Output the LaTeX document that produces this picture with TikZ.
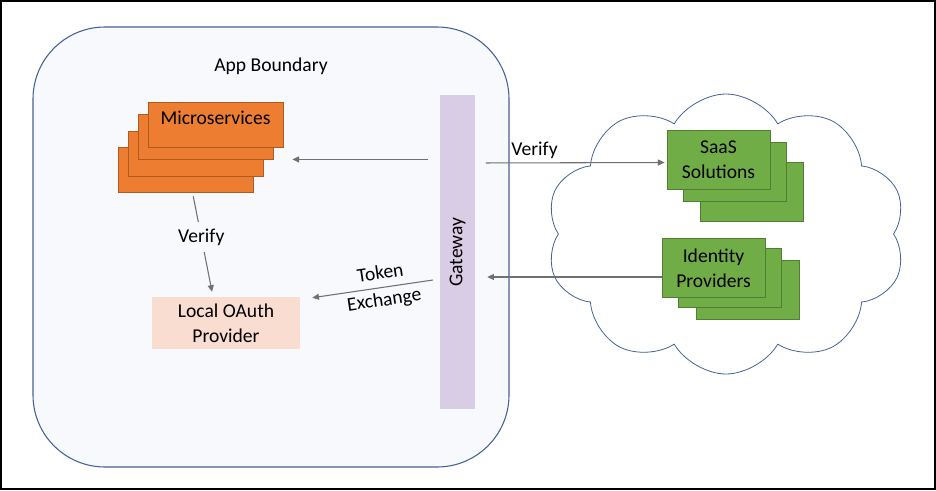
\documentclass[tikz,border=0pt]{standalone}
\usepackage{fontspec}
\setmainfont{Carlito}
\usetikzlibrary{arrows.meta,calc,positioning,shapes.symbols}

\newlength{\pxl}
\setlength{\pxl}{0.75pt}

\definecolor{frameblue}{RGB}{68,97,152}
\definecolor{appfill}{RGB}{247,249,253}
\definecolor{msfill}{RGB}{237,125,49}
\definecolor{msline}{RGB}{174,90,33}
\definecolor{extfill}{RGB}{112,173,71}
\definecolor{extline}{RGB}{80,126,50}
\definecolor{gwfill}{RGB}{217,204,229}
\definecolor{oafill}{RGB}{248,221,208}
\definecolor{linkgray}{RGB}{112,112,112}

\tikzset{
	every node/.style = {font=\fontsize{14.7}{18.8}\selectfont, inner sep=0pt},
	boundary/.style = {draw=frameblue, fill=appfill, line width=0.8pt, rounded corners=54pt, minimum width=476\pxl, minimum height=440\pxl},
	msbox/.style = {draw=msline, fill=msfill, line width=0.6pt, minimum width=135\pxl, minimum height=45\pxl},
	extbox/.style = {draw=extline, fill=extfill, line width=0.6pt, minimum width=103\pxl, minimum height=59\pxl, align=center},
	gateway/.style = {fill=gwfill, minimum width=35\pxl, minimum height=314\pxl},
	oauth/.style = {fill=oafill, minimum width=148\pxl, minimum height=52\pxl, align=center},
	cloudy/.style = {cloud, cloud puffs=10, cloud puff arc=120, aspect=1.28, draw=frameblue, line width=0.6pt, minimum width=360\pxl, minimum height=280\pxl},
	link/.style = {draw=linkgray, line width=0.8pt, -{Triangle[length=5pt,width=4.5pt]}}
}

\begin{document}
\begin{tikzpicture}[x=0.75pt, y=-0.75pt]
	\useasboundingbox (0,0) rectangle (936,490);
	\draw[line width=1.5pt] (1,1) rectangle (935,489);

	% app side
	\node[boundary] (app) at (271,247) {};
	\node (title) at (271,66) {App Boundary};
	\foreach \i/\dx/\dy in {4/-30/45, 3/-20/29, 2/-10/12}
		\node[msbox] (ms\i) at ($(215.5,124.5)+(\dx,\dy)$) {};
	\node[msbox, text depth=10pt] (ms1) at (215.5,124.5) {Microservices};
	\node[oauth] (oa) at (226,323) {Local OAuth\\Provider};
	\node[gateway] (gw) at (457.5,252) {\rotatebox{90}{Gateway}};

	% outside
	\node[cloudy] (net) at (726,234) {};
	\foreach \i/\dx/\dy in {3/33/32, 2/16/12}
		\node[extbox] (sa\i) at ($(718.5,159.5)+(\dx,\dy)$) {};
	\node[extbox] (sa1) at (718.5,159.5) {SaaS\\Solutions};
	\foreach \i/\dx/\dy in {3/34/22, 2/16/10}
		\node[extbox] (id\i) at ($(713.5,268)+(\dx,\dy)$) {};
	\node[extbox] (id1) at (713.5,268) {Identity\\Providers};

	% links
	\draw[link, shorten <=9pt, shorten >=6.75pt] (gw.west |- ms2.south) -- (ms1.east |- ms2.south);
	\draw[link, shorten <=3pt, shorten >=3.75pt] ($(ms4.south)+(7,0)$) -- node[pos=0.43, fill=appfill, inner xsep=2pt, inner ysep=5pt] {Verify} ($(oa.north)+(-13,0)$);
	\draw[link, shorten <=5.25pt] ($(gw.west)+(0,27)$) -- node[pos=0.45, sloped, align=center] {Token\\[1.5pt]Exchange} ($(oa.north east)+(12,1)$);
	\draw[link, shorten <=8pt, shorten >=1.5pt] ($(gw.east)+(0,-89)$) -- node[pos=0.31, above=3pt] {Verify} ($(sa1.west)+(0,3)$);
	\draw[link, shorten >=9pt] ($(id1.west)+(0,9)$) -- ($(gw.east)+(0,25)$);
\end{tikzpicture}
\end{document}
